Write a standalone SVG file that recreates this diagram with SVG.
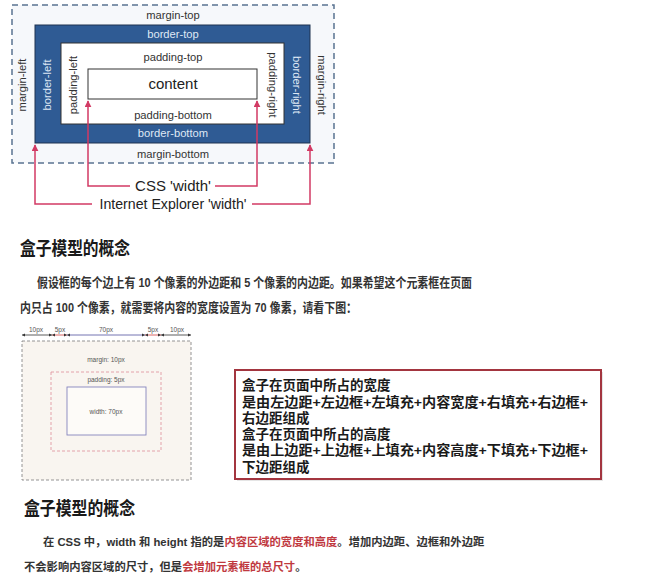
<svg xmlns="http://www.w3.org/2000/svg" width="654" height="584" viewBox="0 0 654 584">
<style>
.lbl{font-family:"Liberation Sans",Arial,sans-serif;font-size:11.2px;fill:#333;text-anchor:middle;dominant-baseline:central}
.blbl{font-family:"Liberation Sans",Arial,sans-serif;font-size:11.2px;fill:#dfe8f5;text-anchor:middle;dominant-baseline:central}
.big{font-family:"Liberation Sans",Arial,sans-serif;font-size:15px;fill:#222;text-anchor:middle}
.arr{fill:none;stroke:#d23a64;stroke-width:1.5}
.h{font-family:"Liberation Sans","Noto Sans CJK SC",sans-serif;font-size:18px;font-weight:bold;fill:#1a1a1a}
.p{font-family:"Liberation Sans","Noto Sans CJK SC",sans-serif;font-size:13px;font-weight:bold;fill:#333}
.q{font-family:"Liberation Sans","Noto Sans CJK SC",sans-serif;font-size:11.3px;font-weight:bold;fill:#333}
.r{fill:#c0393f}
.bx{font-family:"Liberation Sans","Noto Sans CJK SC",sans-serif;font-size:13.5px;font-weight:bold;fill:#1a1a1a}
.sm{font-family:"Liberation Sans",Arial,sans-serif;font-size:6.5px;fill:#555;text-anchor:middle}
</style>
<defs>
<marker id="ah" viewBox="0 0 10 10" refX="9" refY="5" markerWidth="7" markerHeight="7" orient="auto-start-reverse" markerUnits="userSpaceOnUse">
<path d="M0,0 L10,5 L0,10 z" fill="#d23a64"/>
</marker>
</defs>
<rect width="654" height="584" fill="#fff"/>

<g id="margin-box">
<rect x="12" y="5" width="322" height="158" fill="#f6f8fb" stroke="#5a7391" stroke-width="1.5" stroke-dasharray="6,4"/>
<text class="lbl" x="173" y="15">margin-top</text>
<text class="lbl" x="173" y="154">margin-bottom</text>
<text class="lbl" transform="translate(22,85) rotate(-90)">margin-left</text>
<text class="lbl" transform="translate(322,85) rotate(90)">margin-right</text>
</g>
<g id="border-box">
<rect x="35" y="25" width="275" height="118" fill="#2f5b94" stroke="#1e3350" stroke-width="1"/>
<text class="blbl" x="173" y="34">border-top</text>
<text class="blbl" x="173" y="133">border-bottom</text>
<text class="blbl" transform="translate(47,85) rotate(-90)">border-left</text>
<text class="blbl" transform="translate(297,85) rotate(90)">border-right</text>
</g>
<g id="padding-box">
<rect x="61" y="43" width="223" height="81" fill="#fff" stroke="#333" stroke-width="1"/>
<text class="lbl" x="173" y="57">padding-top</text>
<text class="lbl" x="173" y="115">padding-bottom</text>
<text class="lbl" transform="translate(73,85) rotate(-90)">padding-left</text>
<text class="lbl" transform="translate(273,85) rotate(90)">padding-right</text>
</g>
<g id="content-box">
<rect x="88" y="69" width="169" height="30" fill="#fff" stroke="#333" stroke-width="1"/>
<text class="big" x="173" y="89">content</text>
</g>
<g id="connectors">
<polyline class="arr" points="130,186 88,186 88,101" marker-end="url(#ah)"/>
<polyline class="arr" points="215,186 257,186 257,101" marker-end="url(#ah)"/>
<polyline class="arr" points="92,204 35,204 35,145" marker-end="url(#ah)"/>
<polyline class="arr" points="252,204 310,204 310,145" marker-end="url(#ah)"/>
</g>
<g id="width-labels">
<text class="big" x="173" y="191">CSS 'width'</text>
<text class="big" x="173" y="209" textLength="147" lengthAdjust="spacingAndGlyphs">Internet Explorer 'width'</text>
</g>

<g id="section1">
<text class="h" x="20" y="255" textLength="110" lengthAdjust="spacingAndGlyphs">盒子模型的概念</text>
<text class="p" x="37" y="287" textLength="435" lengthAdjust="spacingAndGlyphs">假设框的每个边上有 10 个像素的外边距和 5 个像素的内边距。如果希望这个元素框在页面</text>
<text class="p" x="20" y="312" textLength="337" lengthAdjust="spacingAndGlyphs">内只占 100 个像素，就需要将内容的宽度设置为 70 像素，请看下图：</text>
</g>

<g id="small-diagram">
<text class="sm" x="36" y="332">10px</text>
<text class="sm" x="60" y="332">5px</text>
<text class="sm" x="106" y="332">70px</text>
<text class="sm" x="153" y="332">5px</text>
<text class="sm" x="177" y="332">10px</text>
<line x1="22" y1="335" x2="52" y2="335" stroke="#333" stroke-width="0.8"/>
<line x1="52" y1="335" x2="67" y2="335" stroke="#d04040" stroke-width="0.8"/>
<line x1="67" y1="335" x2="145" y2="335" stroke="#5050a0" stroke-width="0.8"/>
<line x1="145" y1="335" x2="161" y2="335" stroke="#d04040" stroke-width="0.8"/>
<line x1="161" y1="335" x2="191" y2="335" stroke="#333" stroke-width="0.8"/>
<path d="M22,335 l3,-1.5 v3z M52,335 l-3,-1.5 v3z M52,335 l3,-1.5 v3z M67,335 l-3,-1.5 v3z M67,335 l3,-1.5 v3z M145,335 l-3,-1.5 v3z M145,335 l3,-1.5 v3z M161,335 l-3,-1.5 v3z M161,335 l3,-1.5 v3z M191,335 l-3,-1.5 v3z" fill="#333"/>
<rect x="22" y="341" width="169" height="139" fill="#f9f5f0" stroke="#888" stroke-width="0.9" stroke-dasharray="3,2"/>
<text class="sm" x="106" y="362">margin: 10px</text>
<rect x="51" y="372" width="110" height="79" fill="none" stroke="#e09aa2" stroke-width="0.9" stroke-dasharray="3,2"/>
<text class="sm" x="106" y="382">padding: 5px</text>
<rect x="67" y="387" width="79" height="48" fill="#fdfbf8" stroke="#8585bd" stroke-width="0.9"/>
<text class="sm" x="106" y="414">width: 70px</text>
</g>

<g id="note-box">
<rect x="237" y="372" width="366" height="109" fill="#ccc" opacity="0.5"/>
<rect x="235" y="370" width="366" height="109" fill="#fff" stroke="#a3353f" stroke-width="2"/>
<text class="bx" x="242" y="390">盒子在页面中所占的宽度</text>
<text class="bx" x="242" y="407" textLength="346" lengthAdjust="spacingAndGlyphs">是由左边距+左边框+左填充+内容宽度+右填充+右边框+</text>
<text class="bx" x="242" y="423">右边距组成</text>
<text class="bx" x="242" y="439">盒子在页面中所占的高度</text>
<text class="bx" x="242" y="455" textLength="346" lengthAdjust="spacingAndGlyphs">是由上边距+上边框+上填充+内容高度+下填充+下边框+</text>
<text class="bx" x="242" y="472">下边距组成</text>
</g>

<g id="section2">
<text class="h" x="24" y="515" textLength="111" lengthAdjust="spacingAndGlyphs">盒子模型的概念</text>
<text class="q" x="43" y="546">在 CSS 中，width 和 height 指的是<tspan class="r">内容区域的宽度和高度</tspan>。增加内边距、边框和外边距</text>
<text class="q" x="24" y="571">不会影响内容区域的尺寸，但是<tspan class="r">会增加元素框的总尺寸</tspan>。</text>
</g>
</svg>
